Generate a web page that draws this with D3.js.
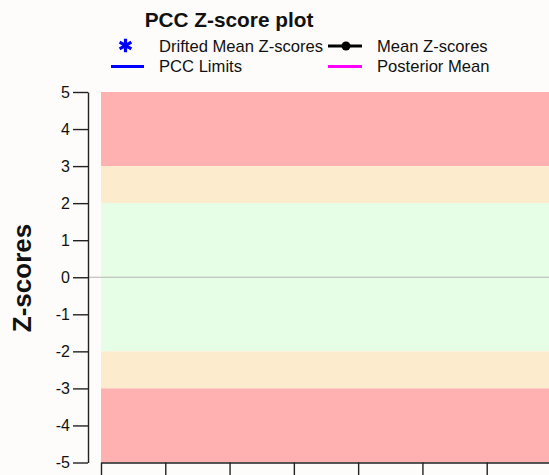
<!DOCTYPE html>
<html>
<head>
<meta charset="utf-8">
<script src="https://cdn.jsdelivr.net/npm/d3@7"></script>
<style>
  body { margin: 0; background: #fdfcfa; }
  svg { display: block; font-family: Arial, "Liberation Sans", sans-serif; }
</style>
</head>
<body>
<div id="chart"></div>
<script>
// zone limits on the z-score axis
var zoneNames = ["upper_action", "upper_warning", "ok", "lower_warning", "lower_action"];
var zoneLow = [3, 2, -2, -3, -5];
var zoneHigh = [5, 3, 2, -2, -3];

var yTicks = [5, 4, 3, 2, 1, 0, -1, -2, -3, -4, -5];
var xTicks = [0, 1, 2, 3, 4, 5, 6, 7];

// series (empty in this plot)
var meanZ = [];
var driftedZ = [];
var posteriorMean = [];

var legendLabels = ["Drifted Mean Z-scores", "Mean Z-scores", "PCC Limits", "Posterior Mean"];

var zoneColors = d3.scaleOrdinal()
    .domain(zoneNames)
    .range(["#ffb1b1", "#fdebce", "#e6fde6", "#fdebce", "#ffb1b1"]);

var w = 549;
var h = 475;

var svg = d3.select("#chart").append("svg").attr("width", w).attr("height", h);

var yScale = d3.scaleLinear().domain([-5, 5]).range([462.5, 92]);
var xScale = d3.scaleLinear().domain([0, 7]).range([101, 551]);

// zone bands
svg.selectAll("rect.zone")
    .data(zoneNames)
    .enter()
    .append("rect")
    .attr("class", "zone")
    .attr("x", xScale(0))
    .attr("width", xScale(7) - xScale(0))
    .attr("y", function (d, i) { return yScale(zoneHigh[i]); })
    .attr("height", function (d, i) { return yScale(zoneLow[i]) - yScale(zoneHigh[i]); })
    .attr("fill", function (d) { return zoneColors(d); });

// zero line
svg.append("line")
    .attr("x1", 88).attr("x2", w)
    .attr("y1", yScale(0)).attr("y2", yScale(0))
    .attr("stroke", "#b4b4b4").attr("stroke-width", 1.2);

// series lines (nothing to draw here, kept for completeness)
var line = d3.line()
    .x(function (d, i) { return xScale(i); })
    .y(function (d) { return yScale(d); });
svg.append("path").datum(meanZ).attr("d", line).attr("fill", "none").attr("stroke", "black").attr("stroke-width", 2);
svg.append("path").datum(posteriorMean).attr("d", line).attr("fill", "none").attr("stroke", "#ff00ff").attr("stroke-width", 2);
svg.selectAll("path.drift").data(driftedZ).enter().append("path").attr("class", "drift")
    .attr("d", d3.symbol().type(d3.symbolAsterisk).size(60))
    .attr("transform", function (d, i) { return "translate(" + xScale(i) + "," + yScale(d) + ")"; })
    .attr("stroke", "#0000ff").attr("stroke-width", 2);

// y axis (plain hyphen for negatives)
var yAxis = d3.axisLeft(yScale).tickValues(yTicks).tickSize(15).tickSizeOuter(0).tickPadding(3)
    .tickFormat(function (d) { return String(d); });
var gy = svg.append("g").attr("transform", "translate(88,0)").call(yAxis);
gy.selectAll("line, path").attr("stroke", "#222").attr("stroke-width", 1.4);
gy.selectAll("text").attr("font-size", "16px").attr("fill", "#111")
    .attr("font-family", "Arial, 'Liberation Sans', sans-serif");

// x axis
var xAxis = d3.axisBottom(xScale).tickValues(xTicks).tickSize(15).tickSizeOuter(0).tickFormat("");
var gx = svg.append("g").attr("transform", "translate(0," + yScale(-5) + ")").call(xAxis);
gx.selectAll("line, path").attr("stroke", "#222").attr("stroke-width", 1.4);

// y label
svg.append("text")
    .attr("transform", "translate(31,278) rotate(-90)")
    .attr("text-anchor", "middle")
    .attr("font-size", "26px")
    .attr("font-weight", "bold")
    .attr("fill", "#111")
    .text("Z-scores");

// title
svg.append("text")
    .attr("x", 229).attr("y", 27)
    .attr("text-anchor", "middle")
    .attr("font-size", "20.8px")
    .attr("font-weight", "bold")
    .attr("fill", "#111")
    .text("PCC Z-score plot");

// legend
var leg = svg.append("g").attr("font-size", "16.6px").attr("fill", "#111");
var legX = [159, 377, 159, 377];
var legY = [52, 52, 72, 72];
leg.selectAll("text")
    .data(legendLabels)
    .enter()
    .append("text")
    .attr("x", function (d, i) { return legX[i]; })
    .attr("y", function (d, i) { return legY[i]; })
    .text(function (d) { return d; });

// drifted marker
leg.append("path")
    .attr("d", d3.symbol().type(d3.symbolAsterisk).size(130))
    .attr("transform", "translate(125.5,45.5)")
    .attr("stroke", "#0000ff").attr("stroke-width", 3.2).attr("fill", "none");
// mean marker
leg.append("line").attr("x1", 328).attr("x2", 362).attr("y1", 46).attr("y2", 46)
    .attr("stroke", "black").attr("stroke-width", 3);
leg.append("circle").attr("cx", 346).attr("cy", 46).attr("r", 4.5).attr("fill", "black");
// limits
leg.append("line").attr("x1", 111).attr("x2", 144).attr("y1", 66.5).attr("y2", 66.5)
    .attr("stroke", "#0000ff").attr("stroke-width", 3);
// posterior
leg.append("line").attr("x1", 328).attr("x2", 362).attr("y1", 66.5).attr("y2", 66.5)
    .attr("stroke", "#ff00ff").attr("stroke-width", 3);
</script>
</body>
</html>
